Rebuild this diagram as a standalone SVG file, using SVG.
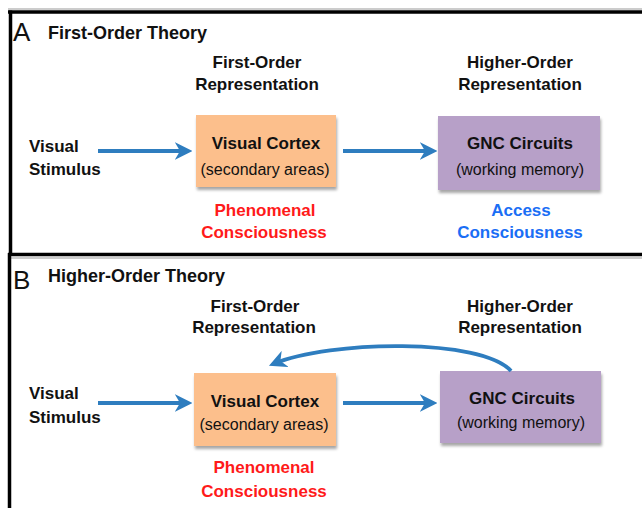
<svg xmlns="http://www.w3.org/2000/svg" width="642" height="508" viewBox="0 0 642 508">
<defs>
<style>
text{font-family:"Liberation Sans",Arial,sans-serif;fill:#111;}
.b{font-weight:bold;font-size:17px;}
.r{font-size:16px;}
.h{font-weight:bold;font-size:18px;}
.l{font-size:26px;}
.c{text-anchor:middle;}
.red{fill:#ff1a1a;}
.blue{fill:#1a6ef5;}
.frame{stroke:#000;stroke-width:3.5;fill:none;}
.shade{stroke:#bbb;stroke-width:1.5;fill:none;}
.org{fill:#fcbf8c;}
.pur{fill:#b7a0c8;}
.arr{stroke:#2e7dbf;stroke-width:3.8;fill:none;marker-end:url(#ah);}
</style>
<marker id="ah" viewBox="0 0 12 12" refX="9" refY="6" markerWidth="4.6" markerHeight="4.6" orient="auto" markerUnits="strokeWidth">
<path d="M0,0 L12,6 L0,12 L3.5,6 Z" fill="#2e7dbf"/>
</marker>
<filter id="sh" x="-10%" y="-10%" width="130%" height="140%">
<feGaussianBlur in="SourceAlpha" stdDeviation="1.8"/>
<feOffset dx="1" dy="3" result="o"/>
<feComponentTransfer><feFuncA type="linear" slope="0.35"/></feComponentTransfer>
<feMerge><feMergeNode/><feMergeNode in="SourceGraphic"/></feMerge>
</filter>
</defs>
<rect width="642" height="508" fill="#fff"/>

<g id="frames">
<line class="shade" x1="8" y1="9" x2="642" y2="9"/>
<line class="shade" x1="10" y1="258" x2="642" y2="258"/>
<line class="frame" x1="8" y1="12" x2="642" y2="12"/>
<line class="frame" x1="10.5" y1="10.5" x2="10.5" y2="256"/>
<line class="frame" x1="8" y1="254.5" x2="642" y2="254.5"/>
<line class="frame" x1="9.5" y1="253" x2="9.5" y2="508"/>
</g>

<g id="panelA-labels">
<text class="l" x="13" y="41">A</text>
<text class="h" x="48" y="39">First-Order Theory</text>
<text class="b c" x="257" y="68">First-Order</text>
<text class="b c" x="257" y="90">Representation</text>
<text class="b c" x="520" y="68">Higher-Order</text>
<text class="b c" x="520" y="90">Representation</text>
</g>

<g id="A-stimulus">
<text class="b" x="29" y="152">Visual</text>
<text class="b" x="29" y="175">Stimulus</text>
</g>
<g id="A-visual-cortex">
<rect class="org" x="196" y="115" width="140" height="72" filter="url(#sh)"/>
<text class="b c" x="266" y="149">Visual Cortex</text>
<text class="r c" x="265" y="175">(secondary areas)</text>
</g>
<g id="A-gnc">
<rect class="pur" x="438" y="116" width="162" height="74" filter="url(#sh)"/>
<text class="b c" x="520" y="149">GNC Circuits</text>
<text class="r c" x="520" y="175">(working memory)</text>
</g>
<g id="A-phenomenal">
<text class="b c red" x="265" y="216">Phenomenal</text>
<text class="b c red" x="264" y="238">Consciousness</text>
</g>
<g id="A-access">
<text class="b c blue" x="521" y="216">Access</text>
<text class="b c blue" x="520" y="238">Consciousness</text>
</g>

<g id="panelB-labels">
<text class="l" x="13" y="289">B</text>
<text class="h" x="48" y="282">Higher-Order Theory</text>
<text class="b c" x="255" y="312">First-Order</text>
<text class="b c" x="254" y="333">Representation</text>
<text class="b c" x="520" y="312">Higher-Order</text>
<text class="b c" x="520" y="333">Representation</text>
</g>

<g id="B-stimulus">
<text class="b" x="29" y="399">Visual</text>
<text class="b" x="29" y="423">Stimulus</text>
</g>
<g id="B-visual-cortex">
<rect class="org" x="194" y="373" width="142" height="73" filter="url(#sh)"/>
<text class="b c" x="265" y="407">Visual Cortex</text>
<text class="r c" x="264" y="430">(secondary areas)</text>
</g>
<g id="B-gnc">
<rect class="pur" x="440" y="371" width="161" height="72" filter="url(#sh)"/>
<text class="b c" x="522" y="404">GNC Circuits</text>
<text class="r c" x="521" y="428">(working memory)</text>
</g>
<g id="B-phenomenal">
<text class="b c red" x="264" y="473">Phenomenal</text>
<text class="b c red" x="264" y="497">Consciousness</text>
</g>

<g id="connectors">
<line class="arr" x1="98" y1="151" x2="188" y2="151"/>
<line class="arr" x1="343" y1="151" x2="433" y2="151"/>
<line class="arr" x1="98" y1="403" x2="188" y2="403"/>
<line class="arr" x1="343" y1="403" x2="433" y2="403"/>
<path class="arr" d="M511,371 C482,338 330,340 273,364"/>
</g>
</svg>
